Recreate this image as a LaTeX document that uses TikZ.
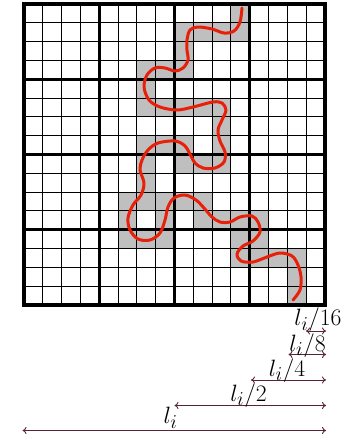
\documentclass[tikz,border=0pt]{standalone}
\usepackage{graphicx}
\usetikzlibrary{arrows.meta}
\definecolor{dimcol}{RGB}{90,35,50}
\definecolor{curvecol}{RGB}{232,32,10}
\newcommand{\dimtext}[1]{\scalebox{0.95}{$#1$}}
\begin{document}
\begin{tikzpicture}[x=1pt,y=-1pt,
  thinline/.style={line width=0.8pt,black},
  quarterline/.style={line width=2.6pt,black},
  halfline/.style={line width=3.6pt,black},
  borderline/.style={line width=4.5pt,black},
  cellfill/.style={fill=gray!50},
  curve/.style={curvecol,line width=3pt,line cap=round,line join=round},
  dimarrow/.style={dimcol,line width=0.9pt,{To[length=4pt,width=7pt]}-{To[length=4pt,width=7pt]}},
  dimlabel/.style={anchor=base,inner sep=0pt,font=\Huge}]
\useasboundingbox (0,0) rectangle (341,437);
\begin{scope}[xshift=24pt,yshift=-4pt,x=18.8pt,y=-18.8pt]
  \foreach \c/\r in {11/0, 8/1,9/1,10/1,11/1, 8/2, 6/3,7/3,8/3, 6/4,
      6/5,7/5,8/5,9/5,10/5, 10/6, 6/7,7/7,8/7,10/7, 6/8,8/8,9/8,10/8, 6/9,
      5/10,6/10,7/10,8/10,9/10, 5/11,7/11,9/11,10/11,11/11,12/11,
      5/12,6/12,7/12,11/12,12/12, 11/13,12/13,13/13,14/13, 14/14, 14/15}
    \fill[cellfill] (\c,\r) rectangle ++(1,1);
  \foreach \i in {0,...,16} {
    \draw[thinline] (\i,0) -- (\i,16);
    \draw[thinline] (0,\i) -- (16,\i);
  }
  \foreach \i in {4,12} {
    \draw[quarterline] (\i,0) -- (\i,16);
    \draw[quarterline] (0,\i) -- (16,\i);
  }
  \draw[halfline] (8,0) -- (8,16);
  \draw[halfline] (0,8) -- (16,8);
  \draw[borderline] (0,0) rectangle (16,16);
\end{scope}
\draw[curve] plot[smooth,tension=0.55] coordinates {
 (242,8) (240,22) (234,31) (224,33) (212,29) (198,27) (190,30) (187,40) (187,50)
 (188,60) (183,68) (175,71) (165,68) (155,68) (147,75) (144,87) (149,100) (160,107)
 (177,110) (193,107) (213,102) (222,103) (226,110) (222,120) (218,130) (220,141)
 (225,152) (224,162) (215,168) (203,168) (195,163) (191,156) (185,146) (175,141)
 (158,143) (148,150) (142,160) (140,170) (144,183) (141,195) (133,205) (128,218)
 (130,230) (138,239) (150,240) (160,233) (165,220) (168,207) (174,198) (185,195)
 (196,200) (204,208) (212,217) (220,222) (230,222) (240,217) (252,216) (258,222)
 (260,232) (253,241) (243,246) (237,254) (241,261) (253,262) (267,257) (280,253)
 (292,256) (298,265) (301,277) (300,290) (293,300)};
% dimension arrows
\coordinate (s16a) at (306,331);   \coordinate (s16b) at (326,331);
\coordinate (s8a)  at (288.5,354.5); \coordinate (s8b) at (326,354.5);
\coordinate (s4a)  at (251,380);   \coordinate (s4b)  at (326,380);
\coordinate (s2a)  at (174.5,405.5); \coordinate (s2b) at (326,405.5);
\coordinate (s1a)  at (22.5,430.5); \coordinate (s1b)  at (326,430.5);
\draw[dimarrow] (s16a) -- (s16b);
\draw[dimarrow] (s8a) -- (s8b);
\draw[dimarrow] (s4a) -- (s4b);
\draw[dimarrow] (s2a) -- (s2b);
\draw[dimarrow] (s1a) -- (s1b);
\node[dimlabel] (t16) at (318,325.5) {\dimtext{l_i/16}};
\node[dimlabel] (t8)  at (307.5,351) {\dimtext{l_i/8}};
\node[dimlabel] (t4)  at (287,376) {\dimtext{l_i/4}};
\node[dimlabel] (t2)  at (248.5,401) {\dimtext{l_i/2}};
\node[dimlabel] (t1)  at (170.5,423.5) {\dimtext{l_i}};
\end{tikzpicture}
\end{document}
